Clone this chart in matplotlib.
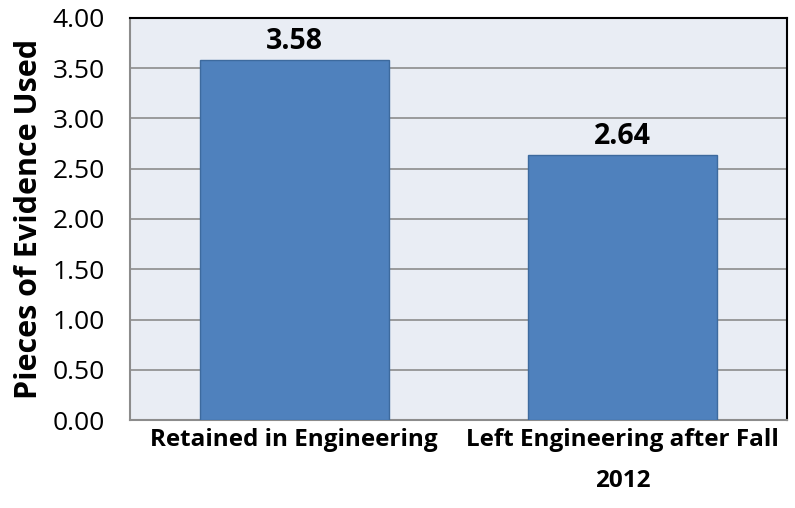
import matplotlib.pyplot as plt
import numpy as np

plt.rcParams['font.family'] = ['Open Sans', 'DejaVu Sans']

categories = ['Retained in Engineering', 'Left Engineering after Fall\n2012']
values = [3.58, 2.64]
yticks = [0.0, 0.5, 1.0, 1.5, 2.0, 2.5, 3.0, 3.5, 4.0]

fig = plt.figure(figsize=(7.95, 5.08), dpi=100)
ax = fig.add_axes([130 / 795, 1 - 420 / 508, 657 / 795, 402 / 508])
ax.set_facecolor('#E9EDF4')

x = np.arange(len(categories))
bars = ax.bar(x, values, width=0.575, color='#4F81BD', edgecolor='#3D6A9E', linewidth=1, zorder=3)

ax.set_xlim(-0.5, len(categories) - 0.5)
ax.set_ylim(0, 4)
ax.set_yticks(yticks)
ax.set_yticklabels(['%.2f' % v for v in yticks], fontsize=19)
ax.yaxis.grid(True, color='#8C8C8C', linewidth=1.2, zorder=1)
ax.tick_params(axis='y', length=0, pad=18)
ax.tick_params(axis='x', length=0, pad=6)
ax.set_xticks(x)
ax.set_xticklabels(categories, fontsize=17.5, fontweight='bold', linespacing=1.95)

for b, v in zip(bars, values):
    ax.text(b.get_x() + b.get_width() / 2, v + 0.04, '%.2f' % v, ha='center', va='bottom',
            fontsize=20.5, fontweight='bold')

ax.set_ylabel('Pieces of Evidence Used', fontsize=22, fontweight='bold', labelpad=6)

for side in ['left', 'bottom']:
    ax.spines[side].set_color('#8C8C8C')
    ax.spines[side].set_linewidth(1.5)
for side in ['top', 'right']:
    ax.spines[side].set_color('black')
    ax.spines[side].set_linewidth(1.5)

fig.savefig('out.png', dpi=100)
